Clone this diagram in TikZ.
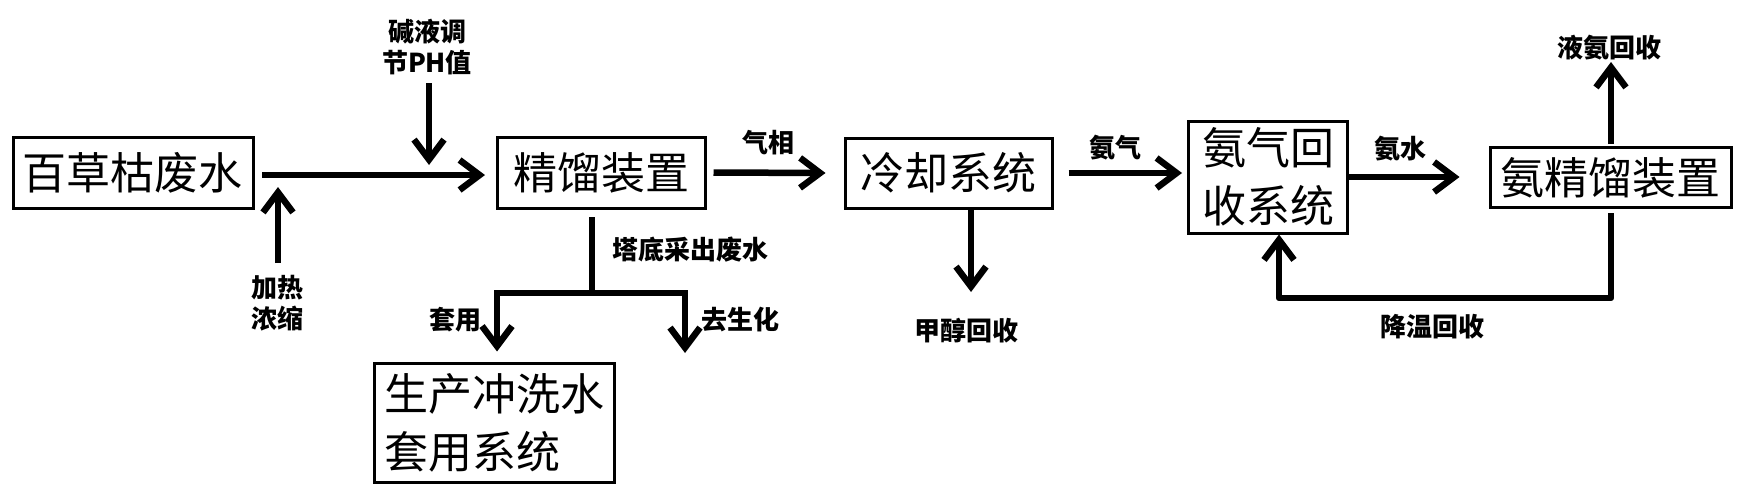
\documentclass[tikz,border=0pt]{standalone}
\usepackage{fontspec}
\newfontfamily\cjk{Noto Sans CJK SC}
\usetikzlibrary{arrows.meta}
\begin{document}
\begin{tikzpicture}[x=1pt,y=-1pt,
  box/.style={draw,line width=3pt,inner sep=0pt,font=\cjk\fontsize{44}{58}\selectfont},
  lab/.style={inner sep=0pt,font=\cjk\bfseries\fontsize{26}{31}\selectfont,align=center},
  flow/.style={line width=6.5pt,-{Straight Barb[length=20pt,width=30pt]}},
  pipe/.style={line width=6.5pt}]
\useasboundingbox (0,0) rectangle (1743,496);
% boxes
\node[box,minimum width=240pt,minimum height=71pt] (b1) at (133,172.5) {百草枯废水};
\node[box,minimum width=208pt,minimum height=71pt] (b2) at (601,172.5) {精馏装置};
\node[box,minimum width=207pt,minimum height=70pt] (b3) at (948.5,173) {冷却系统};
\node[box,minimum width=159pt,minimum height=112pt,align=center] (b4) at (1268,177) {氨气回\\收系统};
\node[box,minimum width=241pt,minimum height=60pt] (b5) at (1610.5,177.5) {氨精馏装置};
\node[box,minimum width=240pt,minimum height=119pt,align=left] (b6) at (494,422.5) {生产冲洗水\\套用系统};
% labels
\node[lab] (l1) at (427,47.5) {碱液调\\节PH值};
\node[lab] (l2) at (277,303.5) {加热\\浓缩};
\node[lab] (l3) at (768,143) {气相};
\node[lab] (l4) at (690,250) {塔底采出废水};
\node[lab] (l5) at (455,320) {套用};
\node[lab] (l6) at (740,320) {去生化};
\node[lab] (l7) at (966,331) {甲醇回收};
\node[lab] (l8) at (1115,148) {氨气};
\node[lab] (l9) at (1400,149) {氨水};
\node[lab] (l10) at (1609,48) {液氨回收};
\node[lab] (l11) at (1432,327) {降温回收};
% coordinates
\coordinate (m1) at (262,175);
\coordinate (m2) at (485,175);
\coordinate (ja) at (429,83);
\coordinate (jb) at (429,165);
\coordinate (ha) at (278,263);
\coordinate (hb) at (278,187);
\coordinate (v1) at (592,217);
\coordinate (v2) at (592,293);
\coordinate (hl) at (497,293);
\coordinate (hr) at (685,293);
\coordinate (hrt) at (685,353);
\coordinate (c1) at (971,210);
\coordinate (c2) at (971,292);
\coordinate (u2) at (1611,62);
\coordinate (r1) at (1611,213);
\coordinate (r2) at (1611,298);
\coordinate (r3) at (1279,298);
% connectors
\draw[flow] (m1) -- (m2);
\draw[flow] (ja) -- (jb);
\draw[flow] (ha) -- (hb);
\draw[flow] ([xshift=7pt]b2.east) -- ([xshift=-18pt]b3.west);
\draw[flow] ([xshift=15pt]b3.east) -- ([xshift=-5pt]b3.east -| b4.west);
\draw[flow] (b4.east) -- ([xshift=-29pt]b4.east -| b5.west);
\draw[pipe] (v1) -- (v2);
\draw[pipe,line cap=rect] (hl) -- (hr);
\draw[flow] (hl) -- ([yshift=10pt]hl |- b6.north);
\draw[flow] (hr) -- (hrt);
\draw[flow] (c1) -- (c2);
\draw[flow] ([yshift=2pt]b5.north -| u2) -- (u2);
\draw[flow,line join=round] (r1) -- (r2) -- (r3) -- (r3 |- b4.south);
\end{tikzpicture}
\end{document}
